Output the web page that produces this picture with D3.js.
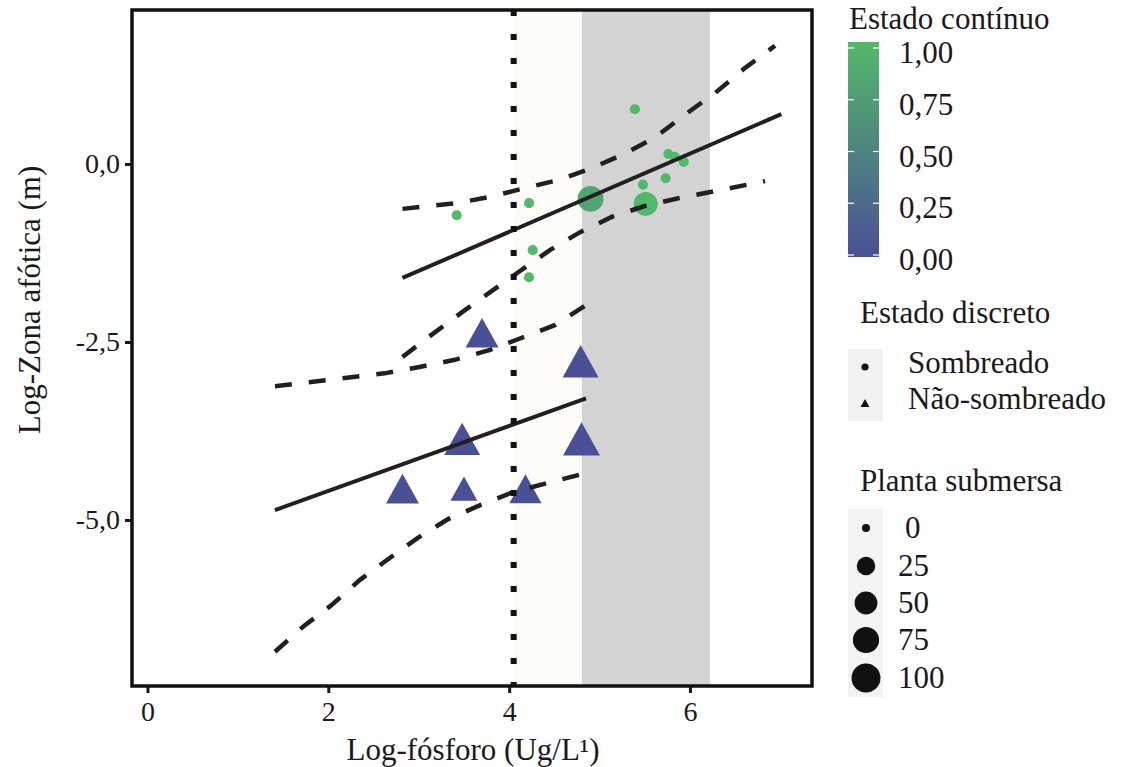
<!DOCTYPE html>
<html>
<head>
<meta charset="utf-8">
<script src="https://cdn.jsdelivr.net/npm/d3@7"></script>
<style>
body{margin:0;background:#fff;}
text{font-family:"Liberation Serif","Times New Roman",serif;fill:#1a1a1a;}
</style>
</head>
<body>
<div id="plot"></div>
<script>
// shaded lakes (circles)
var shadedX = [3.42, 4.22, 4.26, 4.22, 4.90, 5.51, 5.39, 5.48, 5.73, 5.76, 5.83, 5.93];
var shadedY = [-0.72, -0.55, -1.21, -1.59, -0.49, -0.56, 0.77, -0.29, -0.20, 0.14, 0.10, 0.03];
var shadedState = [1, 1, 1, 1, 0.82, 1, 1, 1, 1, 1, 1, 1];
var shadedPlant = [1, 1, 1, 1, 73, 58, 1, 1, 1, 1, 1, 1];

// non-shaded lakes (triangles)
var openX = [3.70, 4.79, 3.48, 4.80, 2.82, 3.50, 4.18];
var openY = [-2.37, -2.77, -3.86, -3.86, -4.56, -4.56, -4.56];
var openState = [0, 0, 0, 0, 0, 0, 0];
var openPlant = [62, 80, 80, 86, 62, 33, 57];

// fitted lines and confidence limits
var shadedFitX = [2.82, 7.01], shadedFitY = [-1.60, 0.70];
var shadedUpX = [2.82, 3.42, 3.79, 4.17, 4.56, 4.91, 5.25, 5.61, 5.94, 6.28, 6.61, 6.94];
var shadedUpY = [-0.63, -0.55, -0.46, -0.34, -0.22, -0.06, 0.13, 0.37, 0.69, 1.00, 1.35, 1.66];
var shadedLoX = [2.82, 3.14, 3.48, 3.79, 4.10, 4.45, 4.78, 5.14, 5.50, 5.87, 6.24, 6.83];
var shadedLoY = [-2.71, -2.40, -2.08, -1.80, -1.52, -1.21, -0.96, -0.74, -0.59, -0.48, -0.39, -0.24];

var openFitX = [1.41, 4.85], openFitY = [-4.86, -3.29];
var openUpX = [1.41, 2.01, 2.62, 3.01, 3.40, 3.79, 4.14, 4.51, 4.84];
var openUpY = [-3.12, -3.03, -2.94, -2.85, -2.75, -2.61, -2.44, -2.26, -1.99];
var openLoX = [1.41, 1.72, 2.04, 2.35, 2.66, 2.99, 3.32, 3.68, 4.04, 4.42, 4.85];
var openLoY = [-6.85, -6.50, -6.19, -5.84, -5.55, -5.25, -4.99, -4.79, -4.61, -4.48, -4.34];

var thresholdX = 4.05;
var bandX = [4.805, 6.22];

var xTicks = [0, 2, 4, 6];
var yTicks = [0, -2.5, -5];
var stateTicks = [1, 0.75, 0.5, 0.25, 0];
var plantTicks = [0, 25, 50, 75, 100];
var shapeLabels = ['Sombreado', 'Não-sombreado'];

var margin = {t:10, l:132};
var width = 680, height = 676;

var svg = d3.select('#plot').append('svg')
	.attr('width', 1121).attr('height', 767);
var plot = svg.append('g')
	.attr('transform', 'translate(' + margin.l + ',' + margin.t + ')');

var x = d3.scaleLinear().domain([-0.171, 7.349]).range([0, width]);
var y = d3.scaleLinear().domain([2.163, -7.331]).range([0, height]);
var color = d3.scaleLinear().domain([0, 1]).range(['#4a5096', '#52b86a']).interpolate(d3.interpolateRgb);
var rad = d3.scaleSqrt().domain([0, 100]).range([4, 14.5]);

var loc = d3.formatLocale({decimal:',', thousands:'.', grouping:[3], currency:['', ''], minus:'-'});
var f1 = loc.format('.1f'), f2 = loc.format('.2f');

// background bands
plot.append('rect').attr('x', x(thresholdX)).attr('y', 0)
	.attr('width', x(bandX[0]) - x(thresholdX)).attr('height', height)
	.style('fill', '#fdfcf8');
plot.append('rect').attr('x', x(bandX[0])).attr('y', 0)
	.attr('width', x(bandX[1]) - x(bandX[0])).attr('height', height)
	.style('fill', '#d3d3d3');

// points
shadedX.forEach(function(v, i){
	plot.append('circle')
		.attr('cx', x(v)).attr('cy', y(shadedY[i]))
		.attr('r', rad(shadedPlant[i]))
		.style('fill', color(shadedState[i]));
});

function tri(cx, cy, s){
	var h = s * 0.9;
	return 'M' + cx + ',' + (cy - h/2) + 'L' + (cx + s/2) + ',' + (cy + h/2) + 'L' + (cx - s/2) + ',' + (cy + h/2) + 'Z';
}
openX.forEach(function(v, i){
	plot.append('path')
		.attr('d', tri(x(v), y(openY[i]), rad(openPlant[i]) * 2.69))
		.style('fill', color(openState[i]));
});

// lines
var line = d3.line().x(function(d){return x(d[0]);}).y(function(d){return y(d[1]);});
function zip(a, b){ return a.map(function(v, i){return [v, b[i]];}); }

[[shadedFitX, shadedFitY, false], [openFitX, openFitY, false],
 [shadedUpX, shadedUpY, true], [shadedLoX, shadedLoY, true],
 [openUpX, openUpY, true], [openLoX, openLoY, true]].forEach(function(l){
	plot.append('path')
		.attr('d', line(zip(l[0], l[1])))
		.style('fill', 'none')
		.style('stroke', '#231f20')
		.style('stroke-width', l[2] ? 4.5 : 4)
		.style('stroke-dasharray', l[2] ? '17,17' : null);
});

plot.append('line')
	.attr('x1', x(thresholdX)).attr('x2', x(thresholdX))
	.attr('y1', 0).attr('y2', height)
	.style('stroke', '#111').style('stroke-width', 6)
	.style('stroke-dasharray', '6,18');

// axes
var xAxis = plot.append('g').attr('transform', 'translate(0,' + height + ')')
	.call(d3.axisBottom(x).tickValues(xTicks).tickSize(7).tickPadding(8).tickFormat(d3.format('d')));
var yAxis = plot.append('g')
	.call(d3.axisLeft(y).tickValues(yTicks).tickSize(7).tickPadding(5).tickFormat(f1));
[xAxis, yAxis].forEach(function(a){
	a.select('.domain').remove();
	a.selectAll('line').style('stroke', '#1a1a1a').style('stroke-width', 3);
	a.selectAll('text').style('font-size', '28px').style('fill', '#1a1a1a')
		.style('font-family', '"Liberation Serif",serif');
});

plot.append('rect').attr('width', width).attr('height', height)
	.style('fill', 'none').style('stroke', '#111').style('stroke-width', 3.5);

svg.append('text').attr('x', 473).attr('y', 760).attr('text-anchor', 'middle')
	.style('font-size', '31px').text('Log-fósforo (Ug/L¹)');
svg.append('text').attr('transform', 'translate(40,300) rotate(-90)').attr('text-anchor', 'middle')
	.style('font-size', '31px').text('Log-Zona afótica (m)');

// legend: continuous colour
var leg = svg.append('g');
leg.append('text').attr('x', 849).attr('y', 29).style('font-size', '31px').text('Estado contínuo');
var grad = svg.append('defs').append('linearGradient').attr('id', 'cbar')
	.attr('x1', 0).attr('x2', 0).attr('y1', 0).attr('y2', 1);
d3.range(0, 1.01, 0.1).forEach(function(t){
	grad.append('stop').attr('offset', t).attr('stop-color', color(1 - t));
});
var cb = d3.scaleLinear().domain([1, 0]).range([48, 255]);
leg.append('rect').attr('x', 848).attr('y', 42).attr('width', 31).attr('height', 215)
	.style('fill', 'url(#cbar)');
stateTicks.forEach(function(t){
	leg.append('line').attr('x1', 848).attr('x2', 854).attr('y1', cb(t)).attr('y2', cb(t))
		.style('stroke', '#fff').style('stroke-width', 1.2);
	leg.append('line').attr('x1', 873).attr('x2', 879).attr('y1', cb(t)).attr('y2', cb(t))
		.style('stroke', '#fff').style('stroke-width', 1.2);
	leg.append('text').attr('x', 899).attr('y', cb(t) + 15).style('font-size', '31px').text(f2(t));
});

// legend: discrete state
leg.append('text').attr('x', 860).attr('y', 323).style('font-size', '31px').text('Estado discreto');
shapeLabels.forEach(function(s, i){
	var cy = 367 + i * 36;
	leg.append('rect').attr('x', 848).attr('y', cy - 18).attr('width', 35).attr('height', 36)
		.style('fill', '#f2f2f2');
	if(i == 0){
		leg.append('circle').attr('cx', 865).attr('cy', cy).attr('r', 3.6).style('fill', '#111');
	}else{
		leg.append('path').attr('d', tri(865, cy, 9)).style('fill', '#111');
	}
	leg.append('text').attr('x', 908).attr('y', cy + 6).style('font-size', '31px').text(s);
});

// legend: plant size
leg.append('text').attr('x', 860).attr('y', 491).style('font-size', '31px').text('Planta submersa');
plantTicks.forEach(function(p, i){
	var cy = [528, 566, 603, 640, 678][i];
	leg.append('rect').attr('x', 848).attr('y', cy - 19).attr('width', 35).attr('height', 38)
		.style('fill', '#f3f3f3');
	leg.append('circle').attr('cx', 866).attr('cy', cy).attr('r', rad(p)).style('fill', '#111');
	leg.append('text').attr('x', p == 0 ? 905 : 898).attr('y', cy + 10).style('font-size', '31px').text(p);
});
</script>
</body>
</html>
